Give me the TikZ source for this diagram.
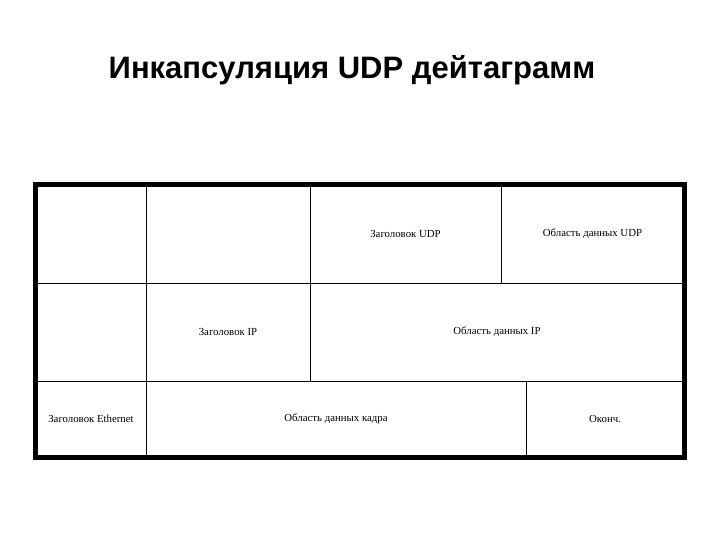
\documentclass[tikz,border=0pt]{standalone}
\usepackage{fontspec}
\setmainfont{Liberation Serif}
\newfontfamily\titlefont{Liberation Sans}
\usepackage{tikz}
\usetikzlibrary{positioning}

\tikzset{
    cell/.style={draw, line width=0.9pt, inner sep=0pt, font=\fontsize{10.8}{12}\selectfont},
    frame/.style={line width=4.5pt},
    heading/.style={font=\titlefont\bfseries\fontsize{31}{36}\selectfont}
}

\begin{document}
\begin{tikzpicture}[x=1pt, y=-1pt]
    \useasboundingbox (0,0) rectangle (720,540);

    % Titre
    \node[heading] (title) at (352,70) {Инкапсуляция UDP дейтаграмм};

    % Ligne UDP
    \node[cell, minimum width=110pt, minimum height=98pt] (e1) at (91,234) {};
    \node[cell, minimum width=164pt, minimum height=98pt] (e2) at (228,234) {};
    \node[cell, minimum width=191pt, minimum height=98pt] (udph) at (405.5,234) {Заголовок UDP};
    \node[cell, minimum width=183pt, minimum height=98pt] (udpd) at (592.5,234) {Область данных UDP};

    % Ligne IP
    \node[cell, minimum width=110pt, minimum height=98pt] (e3) at (91,332) {};
    \node[cell, minimum width=164pt, minimum height=98pt] (iph) at (228,332) {Заголовок IP};
    \node[cell, minimum width=374pt, minimum height=98pt] (ipd) at (497,332) {Область данных IP};

    % Ligne Ethernet
    \node[cell, minimum width=110pt, minimum height=76pt] (ethh) at (91,419) {Заголовок Ethernet};
    \node[cell, minimum width=380pt, minimum height=76pt] (ethd) at (336,419) {Область данных кадра};
    \node[cell, minimum width=158pt, minimum height=76pt] (trl) at (605,419) {Оконч.};

    % Cadre
    \draw[frame] (e1.north west) rectangle (trl.south east);
\end{tikzpicture}
\end{document}
